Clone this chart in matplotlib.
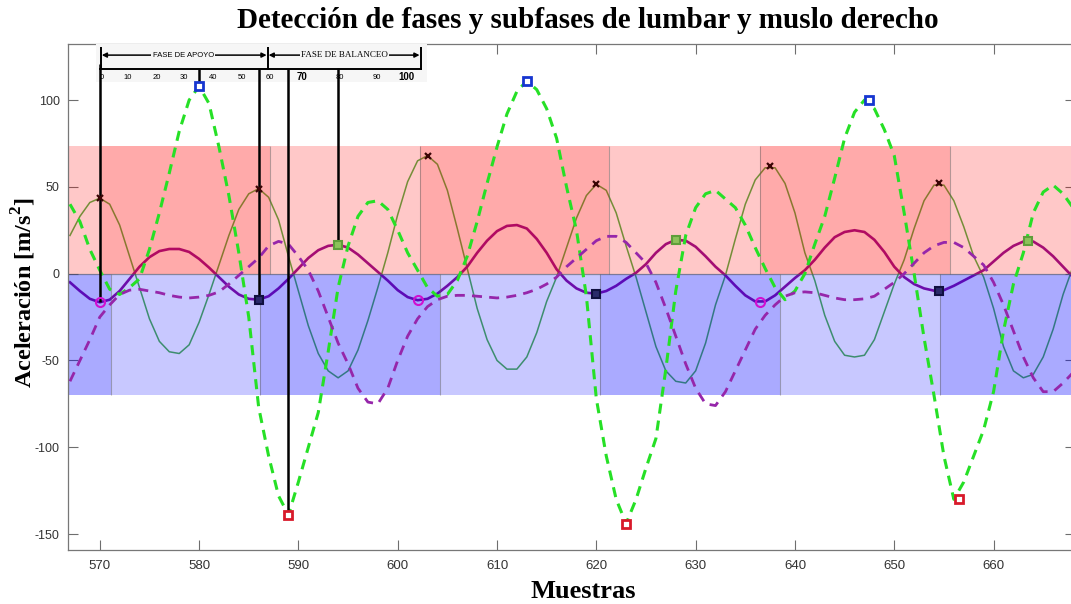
import matplotlib.pyplot as plt
import numpy as np
from matplotlib.patches import Rectangle

plt.rcParams['mathtext.fontset'] = 'custom'
plt.rcParams['mathtext.rm'] = 'Liberation Serif:bold'
plt.rcParams['mathtext.bf'] = 'Liberation Serif:bold'
plt.rcParams['axes.unicode_minus'] = False

# muestras (una por muestra, 567..668)
samples = np.arange(567, 669)

# muslo, linea fina continua
muslo_sol = [22, 33, 41, 43.5, 40, 28, 10, -8, -26, -39,
             -45, -46, -41, -28, -12, 5, 22, 37, 46, 49,
             44, 31, 10, -10, -30, -46, -56, -60, -56, -44,
             -27, -8, 12, 34, 53, 65, 68, 63, 48, 26,
             3, -20, -38, -50, -55, -55, -48, -34, -16, -2,
             15, 32, 45, 51.5, 48, 35, 16, -2, -22, -42,
             -56, -62, -63, -56, -40, -18, -1, 20, 40, 54,
             61, 61, 52, 35, 12, -4, -24, -39, -47, -48,
             -47, -38, -22, -6, 8, 26, 42, 51, 51, 42,
             27, 10, -2, -20, -42, -56, -60, -58, -48, -32,
             -12, 4]

# lumbar, linea continua morada
lumbar_sol = [-5, -10, -14.5, -16.5, -15, -10, -3, 4, 9.5, 13,
              14.2, 14.2, 12.5, 8.5, 3.5, -2, -7.5, -12, -14.5, -15,
              -13, -8.5, -3, 3, 9, 13.5, 16, 16.7, 15, 11,
              6, 1, -4, -9.5, -13.5, -15.3, -14.5, -11.5, -7, -2,
              4, 12, 19, 24.5, 27.5, 28, 26, 20, 12, 2.5,
              -4, -8.5, -11, -11.5, -10, -7, -3, 0.5, 5.5, 12,
              17, 19.5, 19, 15.5, 10, 4, -1, -7, -12.5, -16,
              -16, -12.5, -7.5, -2.5, 2, 8, 15, 21, 24, 25,
              24, 19.5, 12.5, 4, -2, -6, -8.5, -9.8, -9.5, -7,
              -4, -1, 2, 7, 12, 16, 18.5, 18.5, 15, 10,
              4, -2]

# muslo, discontinua verde
muslo_dash = [40, 30, 14, 2, -9, -12, -8, -3, 14, 35,
              58, 82, 100, 108, 98, 73, 45, 12, -25, -77,
              -105, -128, -139, -120, -100, -80, -45, -8, 16, 33,
              41, 42, 37, 25, 12, 2, -8, -13, -12, -4,
              10, 30, 52, 73, 92, 105, 111, 106, 95, 78,
              50, 25, -13, -72, -105, -130, -144, -130, -112, -95,
              -55, -10, 22, 38, 46, 48, 43, 38, 28, 15,
              3, -8, -15, -10, 0, 17, 33, 55, 78, 93,
              100, 95, 83, 68, 35, 0, -37, -70, -105, -130,
              -120, -105, -90, -68, -33, -6, 12, 35, 47, 51,
              46, 38]

# lumbar, discontinua morada
lumbar_dash = [-62, -50, -38, -25, -18, -12, -9.5, -9, -10, -11,
               -12.5, -13.5, -14, -13.5, -12.5, -10.5, -6, -1, 4, 9,
               16, 18.6, 17, 10, 2, -10, -25, -40, -52, -66,
               -74, -75, -66, -50, -36, -26, -19, -15, -13, -12.5,
               -12.5, -13, -13.5, -14, -13.5, -12.5, -11, -9, -6, -2,
               4, 9, 14, 19, 21.5, 21.5, 18, 12, 6, -5,
               -20, -36, -52, -66, -75, -76, -68, -56, -44, -32,
               -24, -18, -13, -11, -10.5, -11, -12.5, -14, -15, -15,
               -14.5, -13, -9, -5, 0, 6, 12, 16, 18, 18,
               15, 10, 5, -5, -18, -33, -48, -60, -68, -68,
               -63, -57]

# marcadores
cross_x = [570, 586, 603, 620, 637.5, 654.5]
cross_y = [43.5, 49, 68, 51.5, 62, 52]
circ_x = [570, 602, 636.5]
circ_y = [-16.5, -15.3, -16.3]
navy_x = [586, 620, 654.5]
navy_y = [-15, -11.5, -9.8]
olive_x = [594, 628, 663.5]
olive_y = [16.7, 19.5, 18.6]
blue_x = [580, 613, 647.5]
blue_y = [108, 111, 100]
red_x = [589, 623, 656.5]
red_y = [-139, -144, -130]

# fases
band_top = 73.5
band_bottom = -70
red_starts = [570, 602.2, 636.5]
red_ends = [587.1, 621.3, 655.6]
blue_starts = [566.8, 586.1, 620.4, 654.6]
blue_ends = [571.1, 604.3, 638.5, 668.2]

# lineas verticales hacia el ciclo de marcha
phase_x = [570, 580, 586, 589, 594]
phase_top = [121, 117.7, 117.7, 117.7, 118.5]
phase_bottom = [-16.5, 108, -15, -139, 16.7]

# escala de la imagen del ciclo
scale_labels = ['0', '10', '20', '30', '40', '50', '60', '70', '80', '90', '100']
scale_pos = [570.2, 572.8, 575.7, 578.5, 581.4, 584.3, 587.1, 590.4, 594.2, 597.9, 600.9]

xmin, xmax = 566.8, 668.2
ymin, ymax = -159.2, 132.3

fig = plt.figure(figsize=(10.71, 6.04), dpi=100)
ax = fig.add_axes([68 / 1071, 54 / 604, 1007 / 1071, 506 / 604])
ax.set_xlim(xmin, xmax)
ax.set_ylim(ymin, ymax)

# curvas bajo las bandas
ax.plot(samples, muslo_sol, color='#4fb548', lw=1.1, zorder=1)
ax.plot(samples, lumbar_sol, color='#8c1294', lw=1.9, zorder=1)

# bandas
ax.add_patch(Rectangle((xmin, 0), xmax - xmin, band_top, facecolor=(1, 0, 0, 0.216),
                       edgecolor='none', zorder=2))
ax.add_patch(Rectangle((xmin, band_bottom), xmax - xmin, -band_bottom, facecolor=(0, 0, 1, 0.216),
                       edgecolor='none', zorder=2))
for s, e in zip(red_starts, red_ends):
    ax.add_patch(Rectangle((s, 0), e - s, band_top, facecolor=(1, 0, 0, 0.15),
                           edgecolor='none', zorder=2))
    ax.vlines([s, e], 0, band_top, color=(0.35, 0.35, 0.35, 0.45), lw=0.8, zorder=2)
for s, e in zip(blue_starts, blue_ends):
    ax.add_patch(Rectangle((s, band_bottom), e - s, -band_bottom, facecolor=(0, 0, 1, 0.15),
                           edgecolor='none', zorder=2))
    ax.vlines([s, e], band_bottom, 0, color=(0.35, 0.35, 0.35, 0.45), lw=0.8, zorder=2)
ax.axhline(0, color=(0.35, 0.35, 0.35, 0.6), lw=0.9, zorder=2)

# curvas discontinuas
ax.plot(samples, muslo_dash, color='#26e026', lw=2.2, ls=(0, (3.3, 2.3)), zorder=3)
ax.plot(samples, lumbar_dash, color='#9626aa', lw=2.0, ls=(0, (3.6, 2.6)), zorder=3)

# imagen de fases (recreada)
ax.add_patch(Rectangle((569.6, 110.5), 33.3, 25, facecolor='#f6f6f6', edgecolor='none', zorder=5))
ax.plot([570, 602.3], [117.7, 117.7], color='k', lw=1.4, zorder=5.5)
ax.vlines([570.1, 586.9, 602.3], 117.3, 130.5, color='k', lw=1.4, zorder=5.5)
ax.annotate('', xy=(570.2, 125.9), xytext=(586.8, 125.9), zorder=5.5,
            arrowprops=dict(arrowstyle='<|-|>', color='k', lw=1.1, mutation_scale=7,
                            shrinkA=0, shrinkB=0))
ax.annotate('', xy=(587.0, 125.9), xytext=(602.2, 125.9), zorder=5.5,
            arrowprops=dict(arrowstyle='<|-|>', color='k', lw=1.1, mutation_scale=7,
                            shrinkA=0, shrinkB=0))
ax.text(578.4, 125.9, 'FASE DE APOYO', fontsize=5.5, ha='center', va='center', zorder=5.6,
        family='Liberation Sans',
        bbox=dict(facecolor='#f6f6f6', edgecolor='none', pad=0.8))
ax.text(594.6, 125.9, 'FASE DE BALANCEO', fontsize=6.5, ha='center', va='center', zorder=5.6,
        family='Liberation Serif',
        bbox=dict(facecolor='#f6f6f6', edgecolor='none', pad=0.8))
for lab, p in zip(scale_labels, scale_pos):
    big = lab in ('70', '100')
    ax.text(p, 113.2, lab, fontsize=7 if big else 5.5, fontweight='bold' if big else 'normal',
            ha='center', va='center', zorder=5.6, family='Liberation Sans')

ax.vlines(phase_x, phase_bottom, phase_top, color='k', lw=1.8, zorder=6)

# marcadores
ax.plot(cross_x, cross_y, 'x', color='#3a0505', ms=4.5, mew=1.6, zorder=7)
ax.plot(circ_x, circ_y, 'o', mfc='none', mec='#d010d0', ms=6.5, mew=1.5, zorder=7)
ax.plot(navy_x, navy_y, 's', mfc='#2a2a6a', mec='#101040', ms=6, mew=1.5, zorder=7)
ax.plot(olive_x, olive_y, 's', mfc='#8cc25a', mec='#5e9e3a', ms=6, mew=1.5, zorder=7)
ax.plot(blue_x, blue_y, 's', mfc='white', mec='#1636d0', ms=6, mew=2, zorder=7)
ax.plot(red_x, red_y, 's', mfc='white', mec='#d81a2a', ms=6, mew=2, zorder=7)

# ejes
ax.set_xticks(np.arange(570, 661, 10))
ax.set_yticks([-150, -100, -50, 0, 50, 100])
ax.tick_params(direction='in', length=7, width=0.8, top=True, right=True,
               color='#6e6e6e', labelcolor='#333333')
ax.tick_params(axis='x', pad=7, labelsize=9.5)
ax.tick_params(axis='y', pad=6, labelsize=9)
for lab in ax.get_xticklabels() + ax.get_yticklabels():
    lab.set_family('Liberation Sans')
for sp in ax.spines.values():
    sp.set_color('#777777')
    sp.set_linewidth(0.9)

fig.text(0.549, 0.966, 'Detección de fases y subfases de lumbar y muslo derecho',
         ha='center', va='center', fontsize=21, fontweight='bold', family='Liberation Serif')
fig.text(0.545, 0.02, 'Muestras', ha='center', va='center', fontsize=19,
         fontweight='bold', family='Liberation Serif')
fig.text(0.022, 0.515, r'Aceleración [m/s$^{2}$]', ha='center', va='center', rotation=90,
         fontsize=17.5, fontweight='bold', family='Liberation Serif')

fig.savefig('out.png', dpi=100)
